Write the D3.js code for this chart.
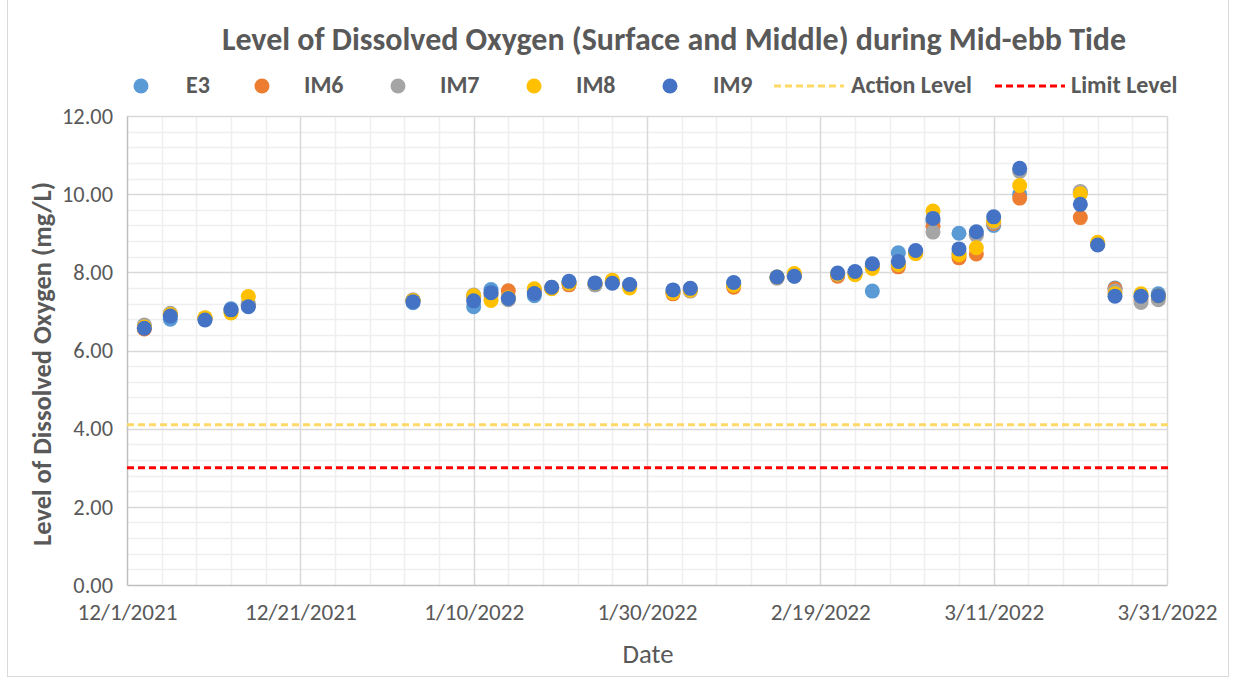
<!DOCTYPE html>
<html><head><meta charset="utf-8">
<script src="https://cdn.jsdelivr.net/npm/d3@7"></script>
<style>body{margin:0;background:#fff}svg{display:block}</style>
</head><body>
<svg id="c" width="1236" height="677"></svg>
<script>
const dates = ["2021-12-03","2021-12-06","2021-12-10","2021-12-13","2021-12-15",
"2022-01-03","2022-01-10","2022-01-12","2022-01-14","2022-01-17","2022-01-19","2022-01-21","2022-01-24","2022-01-26","2022-01-28",
"2022-02-02","2022-02-04","2022-02-09","2022-02-14","2022-02-16","2022-02-21","2022-02-23","2022-02-25","2022-02-28",
"2022-03-02","2022-03-04","2022-03-07","2022-03-09","2022-03-11","2022-03-14","2022-03-21","2022-03-23","2022-03-25","2022-03-28","2022-03-30"];
const E3  = [6.63,6.80,6.80,7.07,7.15, 7.22,7.12,7.56,7.35,7.40,7.60,7.75,7.68,7.75,7.68, 7.50,7.58,7.72,7.88,7.90,7.95,8.00,7.52,8.50, 8.52,9.30,9.00,8.97,9.20,10.00,10.05,8.72,7.60,7.40,7.45];
const IM6 = [6.55,6.93,6.82,7.00,7.15, 7.27,7.38,7.45,7.53,7.55,7.60,7.68,7.70,7.76,7.65, 7.45,7.55,7.62,7.87,7.92,7.90,7.96,8.15,8.14, 8.50,9.18,8.37,8.47,9.25,9.90,9.40,8.72,7.58,7.30,7.38];
const IM7 = [6.65,6.95,6.83,7.02,7.20, 7.30,7.42,7.40,7.30,7.52,7.62,7.72,7.68,7.78,7.66, 7.50,7.52,7.68,7.85,7.93,7.95,7.98,8.15,8.20, 8.50,9.03,8.48,8.95,9.28,10.58,10.07,8.73,7.52,7.23,7.30];
const IM8 = [6.60,6.92,6.84,6.96,7.38, 7.28,7.40,7.28,7.35,7.58,7.58,7.72,7.72,7.80,7.60, 7.48,7.54,7.67,7.88,7.97,7.96,7.94,8.10,8.20, 8.48,9.57,8.45,8.63,9.32,10.22,10.01,8.77,7.45,7.45,7.40];
const IM9 = [6.57,6.88,6.78,7.04,7.12, 7.25,7.27,7.48,7.33,7.46,7.62,7.77,7.73,7.72,7.69, 7.55,7.59,7.74,7.88,7.90,7.98,8.02,8.22,8.28, 8.56,9.38,8.60,9.04,9.42,10.66,9.74,8.70,7.39,7.39,7.40];
const seriesNames = ["E3","IM6","IM7","IM8","IM9"];
const actionLevel = 4.1;
const limitLevel = 3.0;
const yTicks = [0,2,4,6,8,10,12];
const xTickLabels = ["12/1/2021","12/21/2021","1/10/2022","1/30/2022","2/19/2022","3/11/2022","3/31/2022"];

const colors = {E3:"#5B9BD5",IM6:"#ED7D31",IM7:"#A5A5A5",IM8:"#FFC000",IM9:"#4472C4"};
const seriesData = {E3,IM6,IM7,IM8,IM9};
const FONT = "Carlito, 'Liberation Sans Narrow', 'Open Sans', sans-serif";
const TXT = "#595959";

const svg = d3.select("#c");
const L=127, R=1167, T=116, B=585;
const parse = d3.timeParse("%Y-%m-%d");
const x0 = parse("2021-12-01"), x1 = parse("2022-03-31");
const x = d3.scaleTime().domain([x0,x1]).range([L,R]);
const y = d3.scaleLinear().domain([0,12]).range([B,T]);

function fitSize(sel, w){
  const n = sel.node(); let fs = parseFloat(sel.attr("font-size"));
  for(let i=0;i<3;i++){ const cw = n.getComputedTextLength(); if(cw>0){ fs = fs*w/cw; sel.attr("font-size",fs);} }
  return fs;
}

svg.append("rect").attr("x",7.5).attr("y",-1).attr("width",1221).attr("height",677.5).attr("fill","none").attr("stroke","#d9d9d9");

const g = svg.append("g");
const minorY = d3.range(0,12.001,0.4).filter(v=>Math.abs(v/2-Math.round(v/2))>1e-6);
g.selectAll(".my").data(minorY).join("line").attr("x1",L).attr("x2",R)
 .attr("y1",d=>Math.round(y(d))+0.5).attr("y2",d=>Math.round(y(d))+0.5).attr("stroke","#efefef").attr("stroke-width",1.5);
const dayMs = 864e5;
const minorX = d3.range(0,121,4).filter(d=>d%20!==0).map(d=>new Date(x0.getTime()+d*dayMs));
g.selectAll(".mx").data(minorX).join("line").attr("y1",T).attr("y2",B)
 .attr("x1",d=>Math.round(x(d))+0.5).attr("x2",d=>Math.round(x(d))+0.5).attr("stroke","#efefef").attr("stroke-width",1.5);
g.selectAll(".My").data(yTicks.slice(1)).join("line").attr("x1",L).attr("x2",R)
 .attr("y1",d=>Math.round(y(d))+0.5).attr("y2",d=>Math.round(y(d))+0.5).attr("stroke","#d9d9d9").attr("stroke-width",1.5);
const majorX = d3.range(20,121,20).map(d=>new Date(x0.getTime()+d*dayMs));
g.selectAll(".Mx").data(majorX).join("line").attr("y1",T).attr("y2",B)
 .attr("x1",d=>Math.round(x(d))+0.5).attr("x2",d=>Math.round(x(d))+0.5).attr("stroke","#d9d9d9").attr("stroke-width",1.5);

const yAxis = d3.axisLeft(y).tickValues(yTicks).tickFormat(d3.format(".2f")).tickSize(0).tickPadding(14);
const ya = svg.append("g").attr("transform",`translate(${L},0)`).call(yAxis);
ya.select(".domain").attr("stroke","#bfbfbf").attr("stroke-width",1.5);
ya.selectAll("text").attr("font-family",FONT).attr("font-size",18).attr("fill",TXT);
const yfs = fitSize(ya.selectAll("text").filter(d=>d===12), 51);
ya.selectAll("text").attr("font-size",yfs);

const xTickDates = d3.range(0,121,20).map(d=>new Date(x0.getTime()+d*dayMs));
const xAxis = d3.axisBottom(x).tickValues(xTickDates).tickFormat((d,i)=>xTickLabels[i]).tickSize(0).tickPadding(19);
const xa = svg.append("g").attr("transform",`translate(0,${B})`).call(xAxis);
xa.select(".domain").attr("stroke","#bfbfbf").attr("stroke-width",1.5);
xa.selectAll("text").attr("font-family",FONT).attr("font-size",18).attr("fill",TXT);
const xfs = fitSize(xa.selectAll("text").filter((d,i)=>i===0), 100);
xa.selectAll("text").attr("font-size",xfs);

svg.append("line").attr("x1",L).attr("x2",R+3).attr("y1",y(actionLevel)).attr("y2",y(actionLevel))
 .attr("stroke","#FFD966").attr("stroke-width",3).attr("stroke-dasharray","7,4");
svg.append("line").attr("x1",L).attr("x2",R+3).attr("y1",y(limitLevel)).attr("y2",y(limitLevel))
 .attr("stroke","#FF0000").attr("stroke-width",3).attr("stroke-dasharray","7,4");

const pts = svg.append("g");
seriesNames.forEach(s=>{
  pts.append("g").selectAll("circle").data(dates.map((d,i)=>({d:parse(d),v:seriesData[s][i]})))
   .join("circle").attr("cx",d=>x(d.d)).attr("cy",d=>y(d.v)).attr("r",7.5).attr("fill",colors[s]);
});

const title = svg.append("text").attr("x",674).attr("y",50).attr("text-anchor","middle")
 .attr("font-family",FONT).attr("font-weight","bold").attr("font-size",26).attr("fill",TXT)
 .text("Level of Dissolved Oxygen (Surface and Middle) during Mid-ebb Tide");
fitSize(title,904);

const yt = svg.append("text").attr("transform","translate(51,364) rotate(-90)").attr("text-anchor","middle")
 .attr("font-family",FONT).attr("font-weight","bold").attr("font-size",22).attr("fill",TXT)
 .text("Level of Dissolved Oxygen (mg/L)");
fitSize(yt,364);
const xt = svg.append("text").attr("x",648).attr("y",663).attr("text-anchor","middle")
 .attr("font-family",FONT).attr("font-size",22).attr("fill",TXT).text("Date");
fitSize(xt,51);

const legY = 86;
const legMarkers = [141,262,398,534,670];
const legLabelX = [186,304,440,576,713];
const lg = svg.append("g");
lg.append("line").attr("x1",774).attr("x2",844).attr("y1",legY).attr("y2",legY).attr("stroke","#FFD966").attr("stroke-width",3).attr("stroke-dasharray","7,4");
const ta = lg.append("text").attr("x",851).attr("y",legY+6.5).attr("font-family",FONT).attr("font-weight","bold").attr("font-size",19).attr("fill",TXT).text("Action Level");
const lfs = fitSize(ta,121);
lg.append("line").attr("x1",995).attr("x2",1065).attr("y1",legY).attr("y2",legY).attr("stroke","#FF0000").attr("stroke-width",3).attr("stroke-dasharray","7,4");
lg.append("text").attr("x",1071).attr("y",legY+6.5).attr("font-family",FONT).attr("font-weight","bold").attr("font-size",lfs).attr("fill",TXT).text("Limit Level");
seriesNames.forEach((s,i)=>{
  lg.append("circle").attr("cx",legMarkers[i]).attr("cy",legY).attr("r",7.5).attr("fill",colors[s]);
  lg.append("text").attr("x",legLabelX[i]).attr("y",legY+6.5).attr("font-family",FONT)
   .attr("font-weight","bold").attr("font-size",lfs).attr("fill",TXT).text(s);
});
</script>
</body></html>
